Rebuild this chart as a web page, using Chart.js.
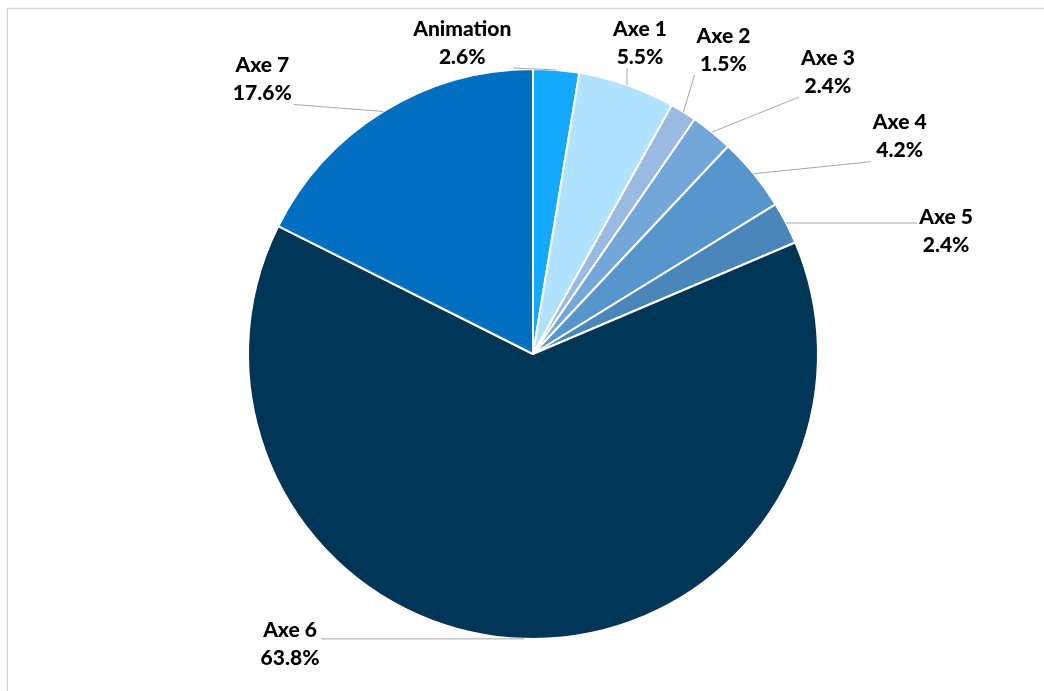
<!DOCTYPE html>
<html>
<head>
<meta charset="utf-8">
<script src="https://cdn.jsdelivr.net/npm/chart.js@4.4.1/dist/chart.umd.min.js"></script>
<style>
  html, body { margin: 0; padding: 0; background: #ffffff; overflow: hidden; }
  #wrap { position: relative; width: 1044px; height: 691px; }
  #frame { position: absolute; left: 7px; top: 8px; width: 1100px; height: 800px;
           border-top: 1px solid #d4d4d4; border-left: 1px solid #d4d4d4;
           box-shadow: -1px -1px 1px rgba(0,0,0,0.04); }
  canvas { position: absolute; left: 0; top: 0; }
</style>
</head>
<body>
<div id="wrap">
  <div id="frame"></div>
  <canvas id="c" width="1044" height="691"></canvas>
</div>
<script>
// ---- data ----
const categories = ["Animation", "Axe 1", "Axe 2", "Axe 3", "Axe 4", "Axe 5", "Axe 6", "Axe 7"];
const shares = [2.6, 5.5, 1.5, 2.4, 4.2, 2.4, 63.8, 17.6];
const sliceColors = ["#14A9FF", "#B1E2FF", "#9BBAE1", "#74A7D9", "#5796CD", "#4A86BA", "#003555", "#006FBF"];
// label placement: offset of label centre from the slice's outer mid-point (px)
const labelOffsets = [[-94, -27], [13, -42], [40, -62], [116, -60], [146, -37], [160, 8], [-234, 5], [-121, -32]];

const labelPlugin = {
  id: 'pieLabels',
  afterDatasetsDraw(chart) {
    const ctx = chart.ctx;
    const meta = chart.getDatasetMeta(0);
    ctx.save();
    ctx.font = '900 21px Lato, "DejaVu Sans", sans-serif';
    meta.data.forEach((arc, i) => {
      const p = arc.getProps(['x', 'y', 'startAngle', 'endAngle', 'outerRadius'], true);
      const mid = (p.startAngle + p.endAngle) / 2;
      const ex = p.x + Math.cos(mid) * p.outerRadius;
      const ey = p.y + Math.sin(mid) * p.outerRadius;
      const cx = ex + labelOffsets[i][0];
      const cy = ey + labelOffsets[i][1];
      const l1 = categories[i];
      const l2 = shares[i].toFixed(1) + '%';
      const w = Math.max(ctx.measureText(l1).width, ctx.measureText(l2).width);
      const halfW = w / 2 + 2;
      const halfH = 25;
      // leader line to nearest point of label box
      const ax = Math.min(Math.max(ex, cx - halfW), cx + halfW);
      const ay = Math.min(Math.max(ey, cy - halfH), cy + halfH);
      ctx.strokeStyle = '#a6a6a6';
      ctx.lineWidth = 1;
      ctx.beginPath();
      ctx.moveTo(ax, ay);
      ctx.lineTo(ex, ey);
      ctx.stroke();
      ctx.fillStyle = '#000000';
      ctx.textAlign = 'center';
      ctx.textBaseline = 'middle';
      ctx.fillText(l1, cx, cy - 14);
      ctx.fillText(l2, cx, cy + 14);
    });
    ctx.restore();
  }
};

new Chart(document.getElementById('c'), {
  type: 'pie',
  data: {
    labels: categories,
    datasets: [{
      data: shares,
      backgroundColor: sliceColors,
      borderColor: '#ffffff',
      borderWidth: 2,
      hoverOffset: 0
    }]
  },
  options: {
    responsive: false,
    animation: false,
    devicePixelRatio: 1,
    layout: { padding: { left: 247, right: 225, top: 68, bottom: 51 } },
    plugins: {
      legend: { display: false },
      tooltip: { enabled: false },
      title: { display: false }
    }
  },
  plugins: [labelPlugin]
});
</script>
</body>
</html>
